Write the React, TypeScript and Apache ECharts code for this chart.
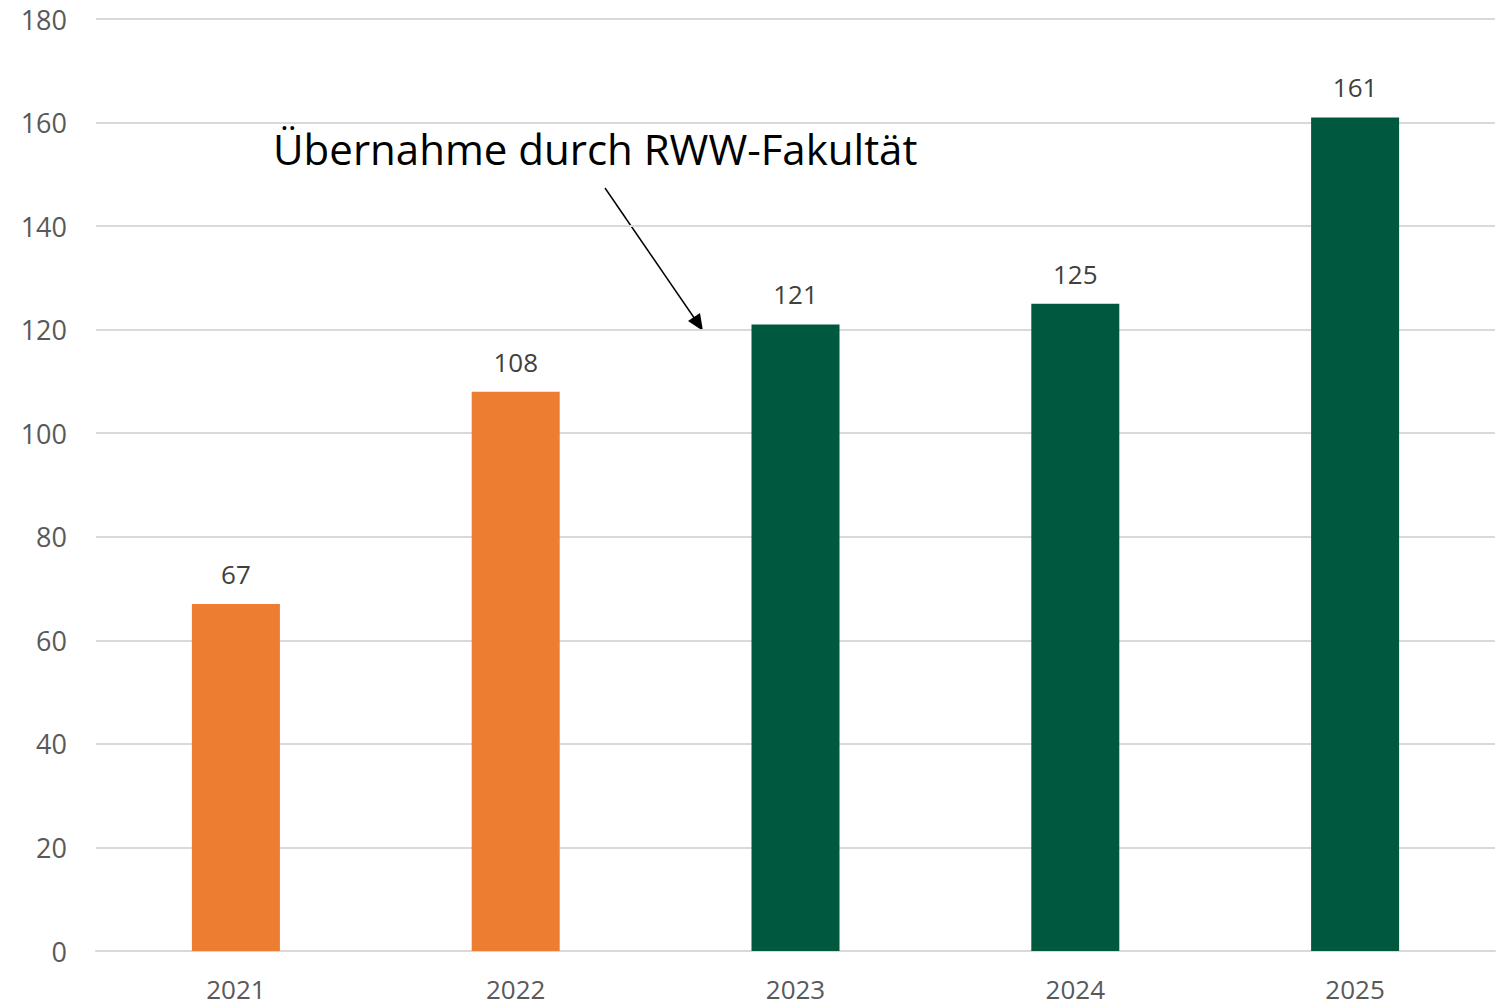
import React, { useEffect, useRef } from "react";
import * as echarts from "echarts";

const years = ["2021", "2022", "2023", "2024", "2025"];
const values = [67, 108, 121, 125, 161];
const barColors = ["#ED7D31", "#ED7D31", "#00583F", "#00583F", "#00583F"];
const yTicks = { min: 0, max: 180, interval: 20 };
const annotationText = "Übernahme durch RWW-Fakultät";

export default function App() {
  const ref = useRef<HTMLDivElement>(null);
  useEffect(() => {
    document.body.style.margin = "0";
    const chart = echarts.init(ref.current!, null, { renderer: "svg" });
    const font = "Open Sans, Noto Sans, sans-serif";
    chart.setOption({
      animation: false,
      backgroundColor: "#ffffff",
      grid: { left: 96, right: 4, top: 19, bottom: 55, containLabel: false },
      xAxis: {
        type: "category",
        data: years,
        axisLine: { show: true, lineStyle: { color: "#d9d9d9", width: 2 } },
        axisTick: { show: false },
        axisLabel: { color: "#595959", fontSize: 26, fontFamily: font, margin: 25 },
      },
      yAxis: {
        type: "value",
        min: yTicks.min,
        max: yTicks.max,
        interval: yTicks.interval,
        axisLine: { show: false },
        axisTick: { show: false },
        splitLine: { lineStyle: { color: "#d9d9d9", width: 2 } },
        axisLabel: { color: "#595959", fontSize: 27, fontFamily: font, margin: 29 },
      },
      series: [
        {
          type: "bar",
          barWidth: 88,
          data: values.map((v, i) => ({ value: v, itemStyle: { color: barColors[i] } })),
          label: {
            show: true,
            position: "top",
            distance: 17,
            color: "#404040",
            fontSize: 26,
            fontFamily: font,
          },
        },
      ],
      graphic: [
        {
          type: "text",
          left: 273,
          top: 127,
          style: { text: annotationText, fill: "#000000", fontSize: 42, fontFamily: font },
        },
        {
          type: "line",
          shape: { x1: 605, y1: 188, x2: 697, y2: 322 },
          style: { stroke: "#000000", lineWidth: 1.5 },
        },
        {
          type: "polygon",
          shape: { points: [[703, 331], [688, 321], [700, 313]] },
          style: { fill: "#000000" },
        },
      ],
    });
    return () => chart.dispose();
  }, []);
  return <div ref={ref} style={{ width: 1499, height: 1006 }} />;
}
